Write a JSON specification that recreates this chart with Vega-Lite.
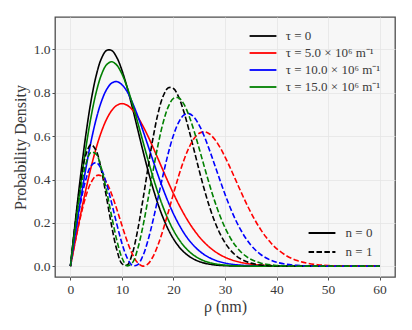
{
  "$schema": "https://vega.github.io/schema/vega-lite/v6.json",
  "width": 340,
  "height": 260,
  "autosize": {"type": "none"},
  "padding": {"left": 55, "top": 17, "right": 17, "bottom": 53},
  "background": "white",
  "config": {
    "font": "Liberation Serif",
    "view": {"fill": "#f7f7f7", "stroke": "#4d4d4d", "strokeWidth": 1.3},
    "axis": {"domain": false, "grid": true, "gridColor": "#e4e4e4", "gridWidth": 0.8, "tickColor": "#4d4d4d", "tickSize": 3, "labelPadding": 2, "labelFont": "Liberation Serif", "labelFontSize": 13.5, "labelColor": "#3a3a3a", "titleFont": "Liberation Serif", "titleFontSize": 16, "titleFontWeight": "normal", "titleColor": "#3a3a3a"},
    "legend": {"labelFont": "Liberation Serif", "labelColor": "#3a3a3a", "title": null}
  },
  "datasets": {
    "n0": [
      {"r": 0, "a": 0, "b": 0, "c": 0, "d": 0},
      {"r": 1, "a": 0.2179, "b": 0.1230, "c": 0.1587, "d": 0.1941},
      {"r": 2, "a": 0.4243, "b": 0.2424, "c": 0.3112, "d": 0.3791},
      {"r": 3, "a": 0.6088, "b": 0.3546, "c": 0.4520, "d": 0.5466},
      {"r": 4, "a": 0.7628, "b": 0.4566, "c": 0.5760, "d": 0.6895},
      {"r": 5, "a": 0.8801, "b": 0.5456, "c": 0.6794, "d": 0.8027},
      {"r": 6, "a": 0.9578, "b": 0.6197, "c": 0.7594, "d": 0.8830},
      {"r": 7, "a": 0.9955, "b": 0.6775, "c": 0.8146, "d": 0.9294},
      {"r": 8, "a": 0.9956, "b": 0.7183, "c": 0.8450, "d": 0.9434},
      {"r": 9, "a": 0.9630, "b": 0.7423, "c": 0.8518, "d": 0.9277},
      {"r": 10, "a": 0.9037, "b": 0.7500, "c": 0.8372, "d": 0.8869},
      {"r": 11, "a": 0.8249, "b": 0.7428, "c": 0.8062, "d": 0.8263},
      {"r": 12, "a": 0.7335, "b": 0.7223, "c": 0.7562, "d": 0.7515},
      {"r": 13, "a": 0.6363, "b": 0.6905, "c": 0.6971, "d": 0.6680},
      {"r": 14, "a": 0.5390, "b": 0.6497, "c": 0.6306, "d": 0.5811},
      {"r": 15, "a": 0.4463, "b": 0.6022, "c": 0.5603, "d": 0.4949},
      {"r": 16, "a": 0.3614, "b": 0.5501, "c": 0.4892, "d": 0.4131},
      {"r": 17, "a": 0.2863, "b": 0.4956, "c": 0.4201, "d": 0.3381},
      {"r": 18, "a": 0.2221, "b": 0.4405, "c": 0.3548, "d": 0.2714},
      {"r": 19, "a": 0.1688, "b": 0.3864, "c": 0.2949, "d": 0.2138},
      {"r": 20, "a": 0.1256, "b": 0.3347, "c": 0.2414, "d": 0.1653},
      {"r": 21, "a": 0.0916, "b": 0.2863, "c": 0.1945, "d": 0.1255},
      {"r": 22, "a": 0.0655, "b": 0.2419, "c": 0.1543, "d": 0.0936},
      {"r": 23, "a": 0.0459, "b": 0.2019, "c": 0.1207, "d": 0.0685},
      {"r": 24, "a": 0.0315, "b": 0.1666, "c": 0.0930, "d": 0.0493},
      {"r": 25, "a": 0.0213, "b": 0.1358, "c": 0.0706, "d": 0.0348},
      {"r": 26, "a": 0.0140, "b": 0.1095, "c": 0.0528, "d": 0.0242},
      {"r": 27, "a": 0.0091, "b": 0.0872, "c": 0.0389, "d": 0.0165},
      {"r": 28, "a": 0.0058, "b": 0.0687, "c": 0.0283, "d": 0.0111},
      {"r": 29, "a": 0.0036, "b": 0.0535, "c": 0.0203, "d": 0.0073},
      {"r": 30, "a": 0.0022, "b": 0.0412, "c": 0.0143, "d": 0.0047},
      {"r": 31, "a": 0.0013, "b": 0.0314, "c": 0.0100, "d": 0.0030},
      {"r": 32, "a": 0.0008, "b": 0.0236, "c": 0.0069, "d": 0.0019},
      {"r": 33, "a": 0.0005, "b": 0.0176, "c": 0.0047, "d": 0.0012},
      {"r": 34, "a": 0.0003, "b": 0.0130, "c": 0.0031, "d": 0.0007},
      {"r": 35, "a": 0.0001, "b": 0.0095, "c": 0.0021, "d": 0.0004},
      {"r": 36, "a": 0, "b": 0.0068, "c": 0.0013, "d": 0.0002},
      {"r": 37, "a": 0, "b": 0.0049, "c": 0.0009, "d": 0.0001},
      {"r": 38, "a": 0, "b": 0.0034, "c": 0.0005, "d": 0.0001},
      {"r": 39, "a": 0, "b": 0.0024, "c": 0.0003, "d": 0},
      {"r": 40, "a": 0, "b": 0.0017, "c": 0.0002, "d": 0},
      {"r": 42, "a": 0, "b": 0.0008, "c": 0.0001, "d": 0},
      {"r": 44, "a": 0, "b": 0.0003, "c": 0, "d": 0},
      {"r": 46, "a": 0, "b": 0.0001, "c": 0, "d": 0},
      {"r": 48, "a": 0, "b": 0, "c": 0, "d": 0},
      {"r": 50, "a": 0, "b": 0, "c": 0, "d": 0},
      {"r": 55, "a": 0, "b": 0, "c": 0, "d": 0},
      {"r": 60, "a": 0, "b": 0, "c": 0, "d": 0}
    ],
    "n1": [
      {"r": 0, "a": 0, "b": 0, "c": 0, "d": 0},
      {"r": 1, "a": 0.2140, "b": 0.1218, "c": 0.1566, "d": 0.1911},
      {"r": 2, "a": 0.3947, "b": 0.2328, "c": 0.2953, "d": 0.3555},
      {"r": 3, "a": 0.5153, "b": 0.3234, "c": 0.4010, "d": 0.4715},
      {"r": 4, "a": 0.5612, "b": 0.3865, "c": 0.4632, "d": 0.5260},
      {"r": 5, "a": 0.5324, "b": 0.4177, "c": 0.4778, "d": 0.5166},
      {"r": 6, "a": 0.4429, "b": 0.4167, "c": 0.4474, "d": 0.4516},
      {"r": 7, "a": 0.3172, "b": 0.3862, "c": 0.3807, "d": 0.3485},
      {"r": 8, "a": 0.1851, "b": 0.3322, "c": 0.2910, "d": 0.2299},
      {"r": 9, "a": 0.0755, "b": 0.2628, "c": 0.1938, "d": 0.1197},
      {"r": 10, "a": 0.0112, "b": 0.1875, "c": 0.1051, "d": 0.0387},
      {"r": 11, "a": 0.0047, "b": 0.1159, "c": 0.0386, "d": 0.0015},
      {"r": 12, "a": 0.0575, "b": 0.0566, "c": 0.0037, "d": 0.0146},
      {"r": 13, "a": 0.1605, "b": 0.0166, "c": 0.0058, "d": 0.0759},
      {"r": 14, "a": 0.2969, "b": 0.0003, "c": 0.0445, "d": 0.1761},
      {"r": 15, "a": 0.4463, "b": 0.0094, "c": 0.1149, "d": 0.3011},
      {"r": 16, "a": 0.5880, "b": 0.0431, "c": 0.2085, "d": 0.4342},
      {"r": 17, "a": 0.7048, "b": 0.0981, "c": 0.3150, "d": 0.5594},
      {"r": 18, "a": 0.7851, "b": 0.1693, "c": 0.4231, "d": 0.6631},
      {"r": 19, "a": 0.8234, "b": 0.2504, "c": 0.5224, "d": 0.7363},
      {"r": 20, "a": 0.8202, "b": 0.3347, "c": 0.6045, "d": 0.7743},
      {"r": 21, "a": 0.7810, "b": 0.4157, "c": 0.6637, "d": 0.7771},
      {"r": 22, "a": 0.7140, "b": 0.4878, "c": 0.6970, "d": 0.7487},
      {"r": 23, "a": 0.6289, "b": 0.5465, "c": 0.7042, "d": 0.6950},
      {"r": 24, "a": 0.5352, "b": 0.5888, "c": 0.6873, "d": 0.6237},
      {"r": 25, "a": 0.4409, "b": 0.6134, "c": 0.6503, "d": 0.5421},
      {"r": 26, "a": 0.3523, "b": 0.6200, "c": 0.5979, "d": 0.4575},
      {"r": 27, "a": 0.2734, "b": 0.6101, "c": 0.5351, "d": 0.3755},
      {"r": 28, "a": 0.2063, "b": 0.5858, "c": 0.4672, "d": 0.3002},
      {"r": 29, "a": 0.1515, "b": 0.5497, "c": 0.3983, "d": 0.2339},
      {"r": 30, "a": 0.1084, "b": 0.5048, "c": 0.3321, "d": 0.1778},
      {"r": 31, "a": 0.0756, "b": 0.4544, "c": 0.2708, "d": 0.1320},
      {"r": 32, "a": 0.0515, "b": 0.4014, "c": 0.2164, "d": 0.0957},
      {"r": 33, "a": 0.0342, "b": 0.3481, "c": 0.1694, "d": 0.0679},
      {"r": 34, "a": 0.0222, "b": 0.2967, "c": 0.1301, "d": 0.0471},
      {"r": 35, "a": 0.0140, "b": 0.2487, "c": 0.0980, "d": 0.0320},
      {"r": 36, "a": 0.0087, "b": 0.2050, "c": 0.0725, "d": 0.0213},
      {"r": 37, "a": 0.0053, "b": 0.1664, "c": 0.0526, "d": 0.0139},
      {"r": 38, "a": 0.0031, "b": 0.1330, "c": 0.0376, "d": 0.0088},
      {"r": 39, "a": 0.0018, "b": 0.1048, "c": 0.0263, "d": 0.0055},
      {"r": 40, "a": 0.0010, "b": 0.0813, "c": 0.0181, "d": 0.0034},
      {"r": 42, "a": 0.0003, "b": 0.0469, "c": 0.0082, "d": 0.0012},
      {"r": 44, "a": 0.0001, "b": 0.0256, "c": 0.0035, "d": 0.0004},
      {"r": 46, "a": 0, "b": 0.0133, "c": 0.0014, "d": 0.0001},
      {"r": 48, "a": 0, "b": 0.0065, "c": 0.0005, "d": 0},
      {"r": 50, "a": 0, "b": 0.0030, "c": 0.0002, "d": 0},
      {"r": 55, "a": 0, "b": 0.0004, "c": 0, "d": 0},
      {"r": 60, "a": 0, "b": 0, "c": 0, "d": 0}
    ]
  },
  "encoding": {
    "x": {"field": "r", "type": "quantitative", "scale": {"domain": [-3, 63], "nice": false, "zero": false}, "axis": {"values": [0, 10, 20, 30, 40, 50, 60], "title": "ρ (nm)", "titlePadding": 3}},
    "y": {"field": "p", "type": "quantitative", "scale": {"domain": [-0.05, 1.15], "nice": false, "zero": false}, "axis": {"values": [0, 0.2, 0.4, 0.6, 0.8, 1.0], "format": ".1f", "title": "Probability Density", "titlePadding": 5}},
    "color": {"field": "tau", "type": "nominal", "scale": {"domain": ["a", "b", "c", "d"], "range": ["#000000", "#ff0000", "#0000ff", "#008000"]}, "legend": {"orient": "none", "legendX": 200, "legendY": 11, "padding": 0, "symbolType": "M-2,0H2", "symbolSize": 180, "symbolStrokeWidth": 1.8, "labelFontSize": 13, "labelOffset": 14.8, "rowPadding": 2, "labelExpr": "datum.label == 'a' ? 'τ = 0' : datum.label == 'b' ? 'τ = 5.0 × 10⁶ m⁻¹' : datum.label == 'c' ? 'τ = 10.0 × 10⁶ m⁻¹' : 'τ = 15.0 × 10⁶ m⁻¹'"}},
    "strokeDash": {"datum": "n0", "type": "nominal", "scale": {"domain": ["n0", "n1"], "range": [[1, 0], [5.5, 2.4]]}, "legend": {"orient": "none", "legendX": 259, "legendY": 208, "padding": 0, "symbolType": "M-2,0H2", "symbolSize": 180, "symbolStrokeWidth": 1.8, "symbolStrokeColor": "#000000", "labelFontSize": 13, "labelOffset": 15.6, "rowPadding": 4, "labelExpr": "datum.label == 'n0' ? 'n = 0' : 'n = 1'"}}
  },
  "layer": [
    {
      "data": {"name": "n0"},
      "transform": [{"fold": ["a", "b", "c", "d"], "as": ["tau", "p"]}],
      "mark": {"type": "line", "interpolate": "catmull-rom", "strokeWidth": 1.6},
      "encoding": {"strokeDash": {"datum": "n0", "type": "nominal"}}
    },
    {
      "data": {"name": "n1"},
      "transform": [{"fold": ["a", "b", "c", "d"], "as": ["tau", "p"]}],
      "mark": {"type": "line", "interpolate": "catmull-rom", "strokeWidth": 1.6},
      "encoding": {"strokeDash": {"datum": "n1", "type": "nominal"}}
    }
  ]
}
